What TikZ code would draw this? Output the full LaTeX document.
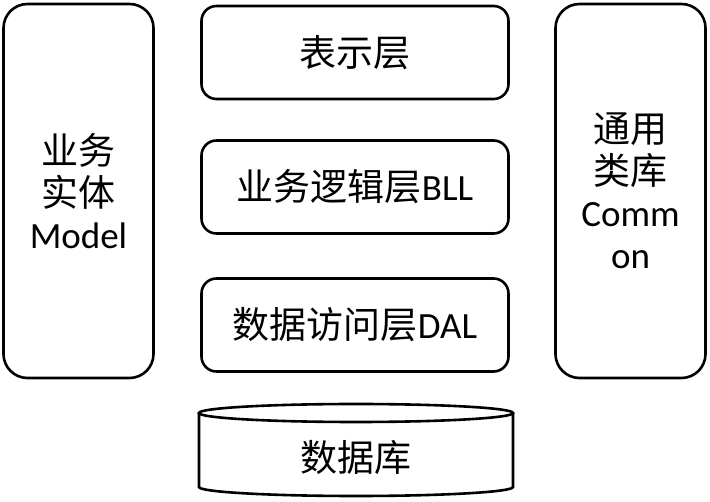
\documentclass[tikz,border=0pt]{standalone}
\usepackage{fontspec}
\setmainfont{Carlito}
\newfontfamily\cjk{Noto Sans CJK SC}
\tikzset{
  side/.style={draw, line width=2.6pt, rounded corners=24pt, minimum width=150pt, minimum height=374pt, align=center},
  layerbox/.style={draw, line width=2.6pt, rounded corners=15pt, minimum width=307pt, minimum height=93pt},
  dbline/.style={line width=2.6pt},
}
\newcommand{\layer}[4]{\node[layerbox] (#1) at ( #2 , #3 ) {#4};}

\begin{document}
\begin{tikzpicture}[x=1pt,y=-1pt,font=\fontsize{37}{42}\selectfont]
\useasboundingbox (0,0) rectangle (710,502);
% side columns
\node[side] (model) at (78.5,191) {{\cjk 业务}\\{\cjk 实体}\\Model};
\node[side] (common) at (630.5,191) {{\cjk 通用}\\{\cjk 类库}\\Comm\\on};
% middle layers
\layer{ui}{355}{52.5}{\cjk 表示层}
\layer{bll}{355}{187}{{\cjk 业务逻辑层}BLL}
\layer{dal}{355}{325}{{\cjk 数据访问层}DAL}
% database
\draw[dbline] (356,413) ellipse[x radius=157, y radius=9];
\draw[dbline] (199,413) -- (199,487) arc[start angle=180, end angle=0, x radius=157, y radius=9] -- (513,413);
\node (db) at (356,458) {\cjk 数据库};
\end{tikzpicture}
\end{document}
